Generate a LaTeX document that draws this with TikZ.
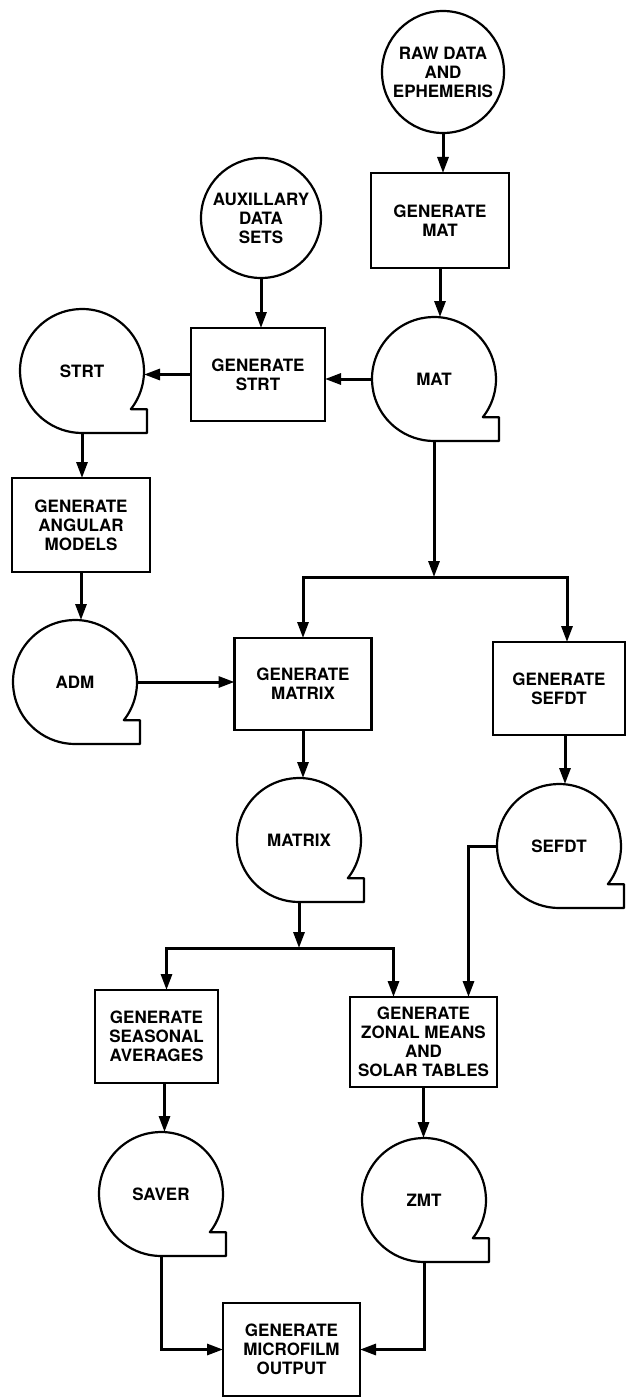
\documentclass[tikz,border=0pt]{standalone}
\usepackage{fontspec}
\setmainfont{TeX Gyre Heros}
\usetikzlibrary{arrows.meta,calc}
\tikzset{
  lbl/.style={font=\fontsize{17}{19}\selectfont\bfseries, align=center},
  boxnode/.style={lbl, draw, line width=2.2pt, inner sep=0pt, outer sep=0pt},
  datacircle/.style={lbl, draw, circle, line width=2.2pt, minimum size=122pt, inner sep=0pt, outer sep=0pt},
  tapenode/.style={lbl, circle, minimum size=124pt, inner sep=0pt, outer sep=0pt},
  tapeline/.style={line width=2.2pt, line join=round},
  conn/.style={line width=3pt},
  arr/.style={conn, -{Triangle[length=16pt,width=11pt]}},
}
\newcommand\tapeoutline[1]{\draw[tapeline] (#1.-38) arc[start angle=-38, end angle=270, radius=62pt] -- ++(65pt,0pt) -- ++(0pt,23.8pt) -- cycle;}
\begin{document}
\begin{tikzpicture}[x=1pt,y=1pt]
\useasboundingbox (0,0) rectangle (627,-1399);

% sources
\node[datacircle] (raw) at (443,-72) {RAW DATA\\AND\\EPHEMERIS};
\node[datacircle, minimum size=120pt] (aux) at (261,-218) {AUXILLARY\\DATA\\SETS};

% process boxes
\node[boxnode, minimum width=138pt, minimum height=95pt] (genmat) at (440,-220.5) {GENERATE\\MAT};
\node[boxnode, minimum width=134pt, minimum height=93pt] (genstrt) at (258,-374.5) {GENERATE\\STRT};
\node[boxnode, minimum width=138pt, minimum height=94pt] (genang) at (81,-525) {GENERATE\\ANGULAR\\MODELS};
\node[boxnode, minimum width=137pt, minimum height=92pt] (genmatrix) at (303,-684) {GENERATE\\MATRIX};
\node[boxnode, minimum width=132pt, minimum height=93pt] (gensefdt) at (559,-688.5) {GENERATE\\SEFDT};
\node[boxnode, minimum width=123pt, minimum height=93pt] (genseas) at (156.5,-1036.5) {GENERATE\\SEASONAL\\AVERAGES};
\node[boxnode, minimum width=147pt, minimum height=90pt] (zonal) at (423.5,-1042) {GENERATE\\ZONAL MEANS\\AND\\SOLAR TABLES};
\node[boxnode, minimum width=137pt, minimum height=93pt] (micro) at (291.5,-1349.5) {GENERATE\\MICROFILM\\OUTPUT};

% tapes
\node[tapenode] (mat) at (434,-379) {MAT};
\node[tapenode] (strt) at (82,-371) {STRT};
\node[tapenode] (adm) at (75,-682) {ADM};
\node[tapenode] (matrix) at (299,-840) {MATRIX};
\node[tapenode] (sefdt) at (559,-846) {SEFDT};
\node[tapenode] (saver) at (161,-1194) {SAVER};
\node[tapenode] (zmt) at (424,-1200) {ZMT};
\tapeoutline{mat}
\tapeoutline{strt}
\tapeoutline{adm}
\tapeoutline{matrix}
\tapeoutline{sefdt}
\tapeoutline{saver}
\tapeoutline{zmt}

% junctions
\coordinate (j1) at (435,-577);
\coordinate (j2) at (298,-948);

% connectors
\draw[arr] (raw.south) -- (raw.south |- genmat.north);
\draw[arr] (genmat.south) -- (genmat.south |- mat.north);
\draw[arr] (aux.south) -- (aux.south |- genstrt.north);
\draw[arr] (mat.west) -- (mat.west -| genstrt.east);
\draw[arr] (genstrt.west) -- (genstrt.west -| strt.east);
\draw[arr] (strt.south) -- (strt.south |- genang.north);
\draw[arr] (genang.south) -- (genang.south |- adm.north);
\draw[arr] (adm.east) -- (adm.east -| genmatrix.west);
\draw[arr] (mat.south) -- (mat.south |- j1);
\draw[arr] (j1) -| (genmatrix.north);
\draw[arr] (j1) -| ([xshift=8pt]gensefdt.north);
\draw[arr] ([xshift=6pt]gensefdt.south) -- ([xshift=6pt]gensefdt.south |- sefdt.north);
\draw[arr] (genmatrix.south) -- (genmatrix.south |- matrix.north);
\draw[arr] (matrix.south) -- (matrix.south |- j2);
\draw[arr] (j2) -| ([xshift=10pt]genseas.north);
\draw[arr] (j2) -| ([xshift=-30pt]zonal.north);
\draw[arr] (sefdt.west) -| ([xshift=45pt]zonal.north);
\draw[arr] ([xshift=8pt]genseas.south) -- ([xshift=8pt]genseas.south |- saver.north);
\draw[arr] (zonal.south) -- (zonal.south |- zmt.north);
\draw[arr] (saver.south) |- (micro.west);
\draw[arr] (zmt.south) |- (micro.east);
\end{tikzpicture}
\end{document}
